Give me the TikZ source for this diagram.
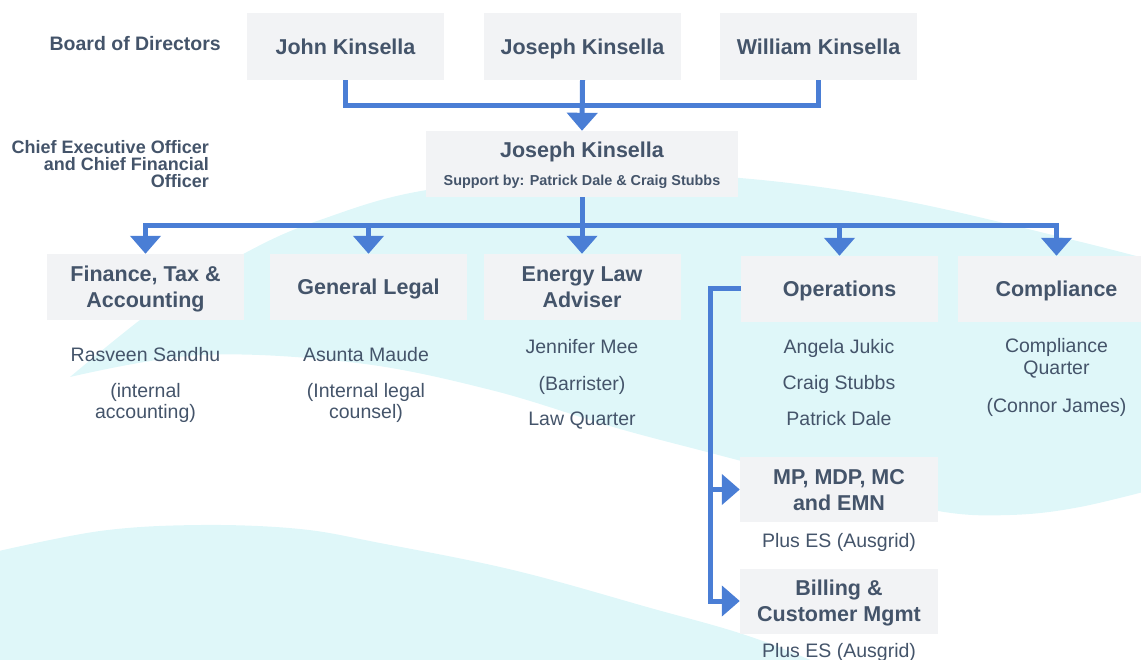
\documentclass[tikz,border=0pt]{standalone}
\usepackage{fontspec}
\setmainfont{Liberation Sans}
\usetikzlibrary{arrows.meta}
\definecolor{slate}{HTML}{44546A}
\definecolor{linkblue}{HTML}{4A7ED5}
\definecolor{boxgrey}{HTML}{F2F3F5}
\definecolor{wave}{HTML}{DFF7F9}

\begin{document}
\begin{tikzpicture}[x=1pt,y=-1pt,
  box/.style={fill=boxgrey,text=slate,font=\bfseries\fontsize{21.5}{26}\selectfont,
    minimum width=197pt,minimum height=66pt,inner sep=0pt,align=center,text depth=0pt},
  role/.style={text=slate,font=\bfseries\fontsize{19.5}{17}\selectfont,inner sep=0pt,text depth=0pt},
  who/.style={text=slate,font=\fontsize{19.5}{21}\selectfont,inner sep=0pt,text height=14pt,text depth=0pt},
  link/.style={draw=linkblue,line width=5pt},
  tip/.style={link,-{Triangle[width=30pt,length=18pt]}}]
  \useasboundingbox (0,0) rectangle (1141,660);
  \clip (0,0) rectangle (1141,660);

  % background waves
  \fill[wave] (70,377) -- plot[smooth,tension=0.6] coordinates {(70,377) (160,305) (247,252) (320,220)
    (427,190) (600,175) (740,178) (900,200) (1073,240) (1170,265)}
    -- (1170,485) -- plot[smooth,tension=0.6] coordinates {(1170,485) (1080,507) (1010,515) (938,511)
    (830,484) (707,452) (613,427) (491,390) (357,363) (201,355) (70,377)} -- cycle;
  \fill[wave] (-10,690) -- plot[smooth,tension=0.6] coordinates {(-10,553) (100,531) (201,525)
    (300,529) (380,543) (513,570) (647,607) (760,640) (880,690)} -- cycle;

  % row labels
  \node[role,anchor=east] (lb) at (221,43) {Board of Directors};
  \node[role,anchor=east,align=right,font=\bfseries\fontsize{18}{17}\selectfont] (lc) at (209,164)
    {Chief Executive Officer\\and Chief Financial\\Officer};

  % board
  \node[box,minimum height=67pt] (d1) at (345.5,46.5) {John Kinsella};
  \node[box,minimum height=67pt] (d2) at (582.5,46.5) {Joseph Kinsella};
  \node[box,minimum height=67pt] (d3) at (818.5,46.5) {William Kinsella};

  % ceo
  \node[box,minimum width=312pt] (ceo) at (582,164)
    {Joseph Kinsella\\[2pt]{\fontsize{14.4}{17}\selectfont Support by: Patrick Dale \& Craig Stubbs}};

  % units
  \node[box] (u1) at (145.5,287) {Finance, Tax \&\\Accounting};
  \node[box] (u2) at (368.5,287) {General Legal};
  \node[box] (u3) at (582,287) {Energy Law\\Adviser};
  \node[box] (u4) at (839.5,289) {Operations};
  \node[box] (u5) at (1056.5,289) {Compliance};
  \node[box,minimum width=198pt,minimum height=65pt] (s1) at (839,489.5) {MP, MDP, MC\\and EMN};
  \node[box,minimum width=198pt,minimum height=65pt] (s2) at (839,601) {Billing \&\\Customer Mgmt};

  % people
  \node[who] (p11) at (145.5,355) {Rasveen Sandhu};
  \node[who] (p12) at (145.5,390) {(internal};
  \node[who] (p13) at (145.5,411) {accounting)};
  \node[who] (p21) at (366,355) {Asunta Maude};
  \node[who] (p22) at (366,390) {(Internal legal};
  \node[who] (p23) at (366,411) {counsel)};
  \node[who] (p31) at (582,347) {Jennifer Mee};
  \node[who] (p32) at (582,383) {(Barrister)};
  \node[who] (p33) at (582,418) {Law Quarter};
  \node[who] (p41) at (839,347) {Angela Jukic};
  \node[who] (p42) at (839,382) {Craig Stubbs};
  \node[who] (p43) at (839,418) {Patrick Dale};
  \node[who] (p51) at (1056.5,346) {Compliance};
  \node[who] (p52) at (1056.5,367.5) {Quarter};
  \node[who] (p53) at (1056.5,405) {(Connor James)};
  \node[who] (q1) at (839,540) {Plus ES (Ausgrid)};
  \node[who] (q2) at (839,650) {Plus ES (Ausgrid)};

  % connectors
  \draw[link] (d1.south) -- ++(0,25) -| (d3.south);
  \draw[tip] (d2.south) -- (ceo.north);
  \coordinate (hub) at (582,226);
  \draw[link] (ceo.south) -- (hub);
  \foreach \u in {u1,u2,u4,u5}
    \draw[tip] (hub) -| (\u.north);
  \draw[tip] (hub) -- (u3.north);
  \coordinate (bend) at (710,289);
  \draw[tip] (u4.west) -- (bend) |- (s2.west);
  \draw[tip] (bend |- s1.west) -- (s1.west);
\end{tikzpicture}
\end{document}
